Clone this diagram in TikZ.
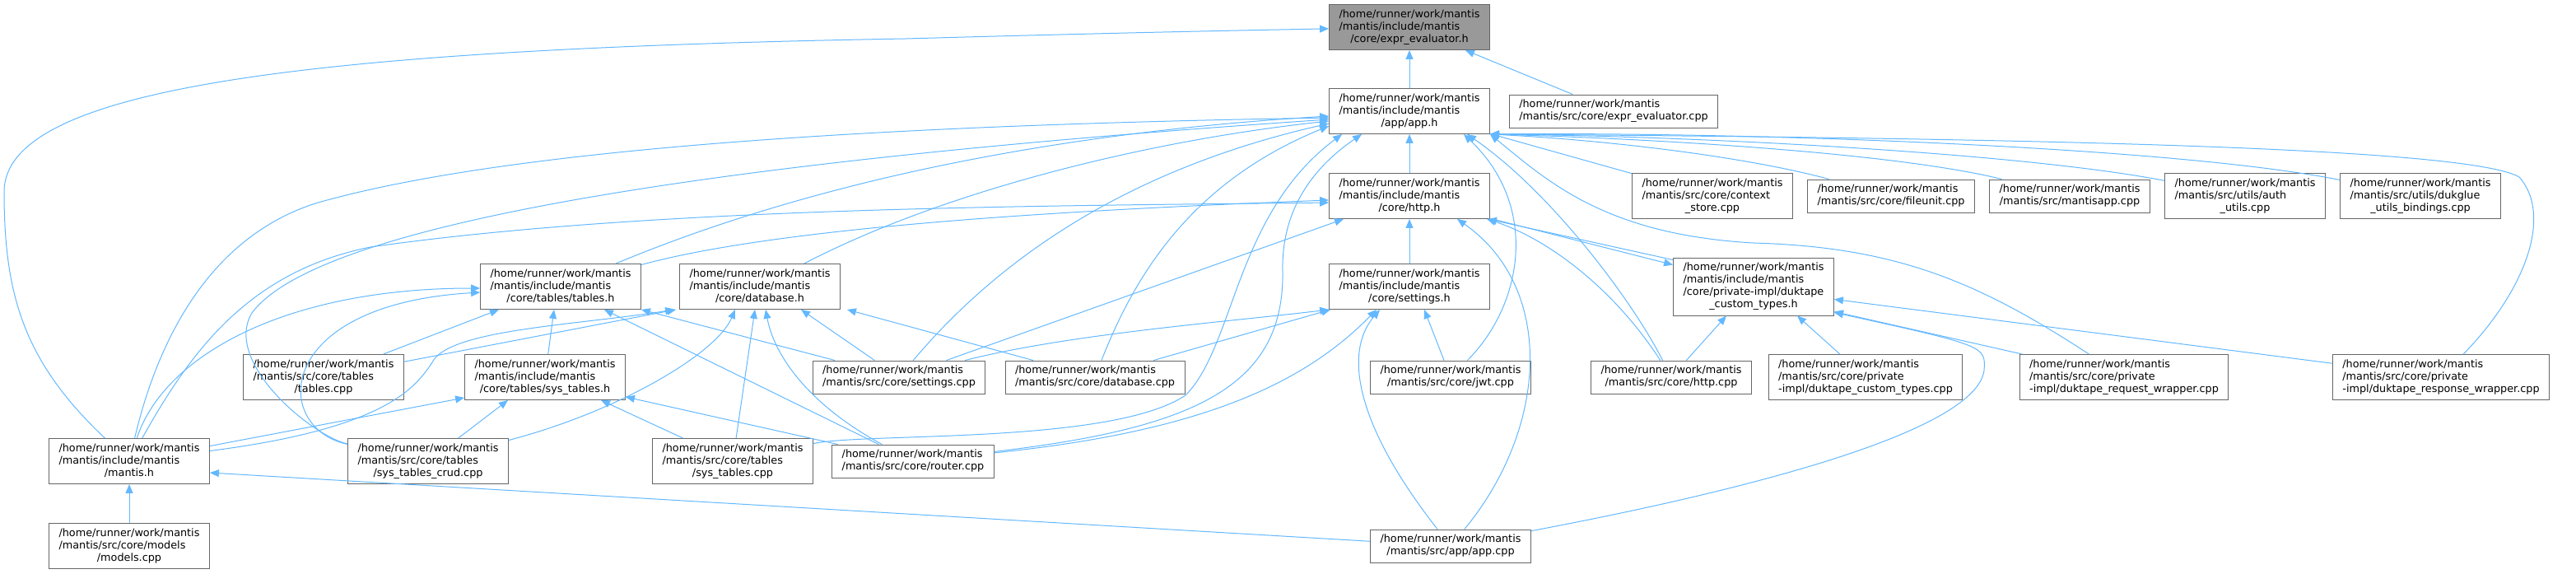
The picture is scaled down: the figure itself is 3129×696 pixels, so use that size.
\documentclass[tikz,border=0pt]{standalone}
\usepackage{fontspec}
\setmainfont{DejaVu Sans}
\usetikzlibrary{arrows.meta}
\definecolor{edgeblue}{HTML}{63B8FF}
\definecolor{boxgray}{HTML}{666666}
\definecolor{rootfill}{HTML}{999999}
\newcommand{\flines}[2]{\begin{tabular}{@{}l@{}}#1\\\multicolumn{1}{@{}c@{}}{#2}\end{tabular}}
\begin{document}
\begin{tikzpicture}[
  x=1pt,
  y=-1pt,
  file/.style={
    draw=boxgray,
    fill=white,
    line width=0.9pt,
    inner xsep=12pt,
    inner ysep=5pt,
    font=\fontsize{12.8}{15}\selectfont
  },
  root file/.style={file, fill=rootfill},
  incl/.style={draw=edgeblue, line width=1pt, -{Triangle[length=11pt,width=9pt]}}
]
  \useasboundingbox (0,0) rectangle (3129,696);

  \node[root file] (exprh) at (1712,33) {\flines{/home/runner/work/mantis\\/mantis/include/mantis}{/core/expr\_evaluator.h}};
  \node[file] (apph) at (1712,135) {\flines{/home/runner/work/mantis\\/mantis/include/mantis}{/app/app.h}};
  \node[file] (exprcpp) at (1960,135) {\flines{/home/runner/work/mantis}{/mantis/src/core/expr\_evaluator.cpp}};
  \node[file] (httph) at (1712,238) {\flines{/home/runner/work/mantis\\/mantis/include/mantis}{/core/http.h}};
  \node[file] (ctxcpp) at (2080,238) {\flines{/home/runner/work/mantis\\/mantis/src/core/context}{\_store.cpp}};
  \node[file] (fileunit) at (2297,238) {\flines{/home/runner/work/mantis}{/mantis/src/core/fileunit.cpp}};
  \node[file] (mantisapp) at (2514,238) {\flines{/home/runner/work/mantis}{/mantis/src/mantisapp.cpp}};
  \node[file] (authutils) at (2727,238) {\flines{/home/runner/work/mantis\\/mantis/src/utils/auth}{\_utils.cpp}};
  \node[file] (dukglue) at (2940,238) {\flines{/home/runner/work/mantis\\/mantis/src/utils/dukglue}{\_utils\_bindings.cpp}};
  \node[file] (tablesh) at (681,348) {\flines{/home/runner/work/mantis\\/mantis/include/mantis}{/core/tables/tables.h}};
  \node[file] (databaseh) at (923,348) {\flines{/home/runner/work/mantis\\/mantis/include/mantis}{/core/database.h}};
  \node[file] (settingsh) at (1712,348) {\flines{/home/runner/work/mantis\\/mantis/include/mantis}{/core/settings.h}};
  \node[file] (dtypesh) at (2130,348) {\flines{/home/runner/work/mantis\\/mantis/include/mantis\\/core/private-impl/duktape}{\_custom\_types.h}};
  \node[file] (tablescpp) at (393,458) {\flines{/home/runner/work/mantis\\/mantis/src/core/tables}{/tables.cpp}};
  \node[file] (systablesh) at (662,458) {\flines{/home/runner/work/mantis\\/mantis/include/mantis}{/core/tables/sys\_tables.h}};
  \node[file] (settingscpp) at (1092,458) {\flines{/home/runner/work/mantis}{/mantis/src/core/settings.cpp}};
  \node[file] (databasecpp) at (1330,458) {\flines{/home/runner/work/mantis}{/mantis/src/core/database.cpp}};
  \node[file] (jwtcpp) at (1762,458) {\flines{/home/runner/work/mantis}{/mantis/src/core/jwt.cpp}};
  \node[file] (httpcpp) at (2030,458) {\flines{/home/runner/work/mantis}{/mantis/src/core/http.cpp}};
  \node[file] (dtypescpp) at (2266,458) {\flines{/home/runner/work/mantis\\/mantis/src/core/private}{-impl/duktape\_custom\_types.cpp}};
  \node[file] (reqwrap) at (2580,458) {\flines{/home/runner/work/mantis\\/mantis/src/core/private}{-impl/duktape\_request\_wrapper.cpp}};
  \node[file] (respwrap) at (2965,458) {\flines{/home/runner/work/mantis\\/mantis/src/core/private}{-impl/duktape\_response\_wrapper.cpp}};
  \node[file] (mantish) at (157,560) {\flines{/home/runner/work/mantis\\/mantis/include/mantis}{/mantis.h}};
  \node[file] (crudcpp) at (520,560) {\flines{/home/runner/work/mantis\\/mantis/src/core/tables}{/sys\_tables\_crud.cpp}};
  \node[file] (systablescpp) at (890,560) {\flines{/home/runner/work/mantis\\/mantis/src/core/tables}{/sys\_tables.cpp}};
  \node[file] (routercpp) at (1109,560) {\flines{/home/runner/work/mantis}{/mantis/src/core/router.cpp}};
  \node[file] (modelscpp) at (157,663) {\flines{/home/runner/work/mantis\\/mantis/src/core/models}{/models.cpp}};
  \node[file] (appcpp) at (1762,663) {\flines{/home/runner/work/mantis}{/mantis/src/app/app.cpp}};

  \draw[incl] (apph) -- (exprh);
  \draw[incl] (exprcpp) -- (exprh);
  \draw[incl] (mantish) .. controls (30,440) and (5,360) .. (5,233) .. controls (5,110) and (350,60) .. (1100,47) .. controls (1350,40) and (1500,37) .. (exprh);

  \draw[incl] (httph) -- (apph);
  \draw[incl] (ctxcpp) -- (apph);
  \draw[incl] (fileunit) .. controls (2120,190) and (1950,170) .. (apph.south east);
  \draw[incl] (mantisapp) .. controls (2300,185) and (2000,168) .. (apph.south east);
  \draw[incl] (authutils) .. controls (2450,185) and (2050,165) .. (apph.south east);
  \draw[incl] (dukglue) .. controls (2650,180) and (2150,160) .. (apph.south east);
  \draw[incl] (respwrap) .. controls (3070,350) and (3100,260) .. (3060,215) .. controls (3000,180) and (2500,168) .. (apph.south east);
  \draw[incl] (reqwrap) .. controls (2400,340) and (2300,300) .. (2130,295) .. controls (1950,285) and (1880,220) .. (apph.south east);
  \draw[incl] (httpcpp) .. controls (1980,360) and (1880,230) .. ([xshift=-28pt]apph.south east);
  \draw[incl] (jwtcpp) .. controls (1850,370) and (1870,250) .. ([xshift=-32pt]apph.south east);
  \draw[incl] (tablesh) .. controls (1000,215) and (1300,160) .. ([yshift=-6pt]apph.west);
  \draw[incl] (databaseh) .. controls (1150,230) and (1400,170) .. ([yshift=-12pt]apph.west);
  \draw[incl] (mantish) .. controls (190,420) and (250,290) .. (383,247) .. controls (650,170) and (1200,150) .. ([yshift=-8pt]apph.west);
  \draw[incl] (crudcpp) .. controls (380,530) and (270,440) .. (306,380) .. controls (380,280) and (800,200) .. ([yshift=-10pt]apph.west);
  \draw[incl] (settingscpp) .. controls (1200,330) and (1350,210) .. ([yshift=-15pt]apph.west);
  \draw[incl] (databasecpp) .. controls (1380,330) and (1450,220) .. ([yshift=-18pt]apph.west);
  \draw[incl] (systablescpp) .. controls (1050,525) and (1350,540) .. (1440,480) .. controls (1500,420) and (1500,260) .. ([xshift=16pt]apph.south west);
  \draw[incl] (routercpp) .. controls (1450,520) and (1560,470) .. (1558,330) .. controls (1556,250) and (1600,200) .. ([xshift=40pt]apph.south west);

  \draw[incl] (settingsh) -- (httph);
  \draw[incl] (settingscpp) -- ([xshift=18pt]httph.south west);
  \draw[incl] (appcpp) .. controls (1880,520) and (1890,350) .. ([xshift=58pt]httph.south);
  \draw[incl] (httpcpp) .. controls (1960,350) and (1880,290) .. ([xshift=-4pt]httph.south east);
  \draw[incl] ([yshift=-3pt]dtypesh.north west) -- ([xshift=-3pt]httph.south east);
  \draw[incl] ([xshift=3pt]httph.south east) -- ([yshift=-9pt]dtypesh.north west);
  \draw[incl] (tablesh) .. controls (950,275) and (1300,255) .. ([yshift=-5pt]httph.west);
  \draw[incl] (mantish) .. controls (230,430) and (300,330) .. (450,300) .. controls (800,250) and (1300,250) .. ([yshift=-8pt]httph.west);

  \draw[incl] (settingscpp) .. controls (1300,405) and (1500,390) .. (settingsh.south west);
  \draw[incl] (databasecpp) -- ([xshift=2pt]settingsh.south west);
  \draw[incl] (routercpp) .. controls (1450,525) and (1580,470) .. ([xshift=-40pt]settingsh.south);
  \draw[incl] (appcpp) .. controls (1650,520) and (1630,430) .. ([xshift=-36pt]settingsh.south);
  \draw[incl] (jwtcpp) -- ([xshift=18pt]settingsh.south);

  \draw[incl] (tablescpp) -- ([xshift=-75pt]tablesh.south);
  \draw[incl] (systablesh) -- ([xshift=-8pt]tablesh.south);
  \draw[incl] (settingscpp) -- (tablesh.south east);
  \draw[incl] (routercpp) -- ([xshift=-45pt]tablesh.south east);
  \draw[incl] (mantish) .. controls (200,430) and (350,350) .. ([yshift=-2pt]tablesh.west);
  \draw[incl] (crudcpp) .. controls (330,520) and (330,370) .. ([yshift=-7pt]tablesh.west);

  \draw[incl] (tablescpp) -- ([xshift=-4pt]databaseh.south west);
  \draw[incl] (mantish) .. controls (470,520) and (505,470) .. (525,440) .. controls (545,400) and (700,395) .. ([xshift=-6pt]databaseh.south west);
  \draw[incl] (crudcpp) .. controls (750,500) and (870,430) .. ([xshift=-30pt]databaseh.south);
  \draw[incl] (systablescpp) -- ([xshift=-6pt]databaseh.south);
  \draw[incl] (routercpp) .. controls (980,490) and (940,430) .. ([xshift=7pt]databaseh.south);
  \draw[incl] (settingscpp) -- ([xshift=50pt]databaseh.south);
  \draw[incl] (databasecpp) -- ([xshift=8pt]databaseh.south east);

  \draw[incl] (mantish) -- ([yshift=3pt]systablesh.south west);
  \draw[incl] (crudcpp) -- ([xshift=-45pt]systablesh.south);
  \draw[incl] (systablescpp) -- ([xshift=68pt]systablesh.south);
  \draw[incl] (routercpp) -- ([yshift=4pt]systablesh.south east);

  \draw[incl] (httpcpp) -- ([xshift=-33pt]dtypesh.south);
  \draw[incl] (dtypescpp) -- ([xshift=53pt]dtypesh.south);
  \draw[incl] (reqwrap) -- ([yshift=5pt]dtypesh.south east);
  \draw[incl] (respwrap) -- ([yshift=20pt]dtypesh.south east);
  \draw[incl] (appcpp) .. controls (2150,590) and (2400,520) .. (2410,450) .. controls (2412,420) .. ([yshift=4pt]dtypesh.south east);

  \draw[incl] (modelscpp) -- (mantish);
  \draw[incl] (appcpp) -- ([yshift=-14pt]mantish.east);
\end{tikzpicture}
\end{document}
